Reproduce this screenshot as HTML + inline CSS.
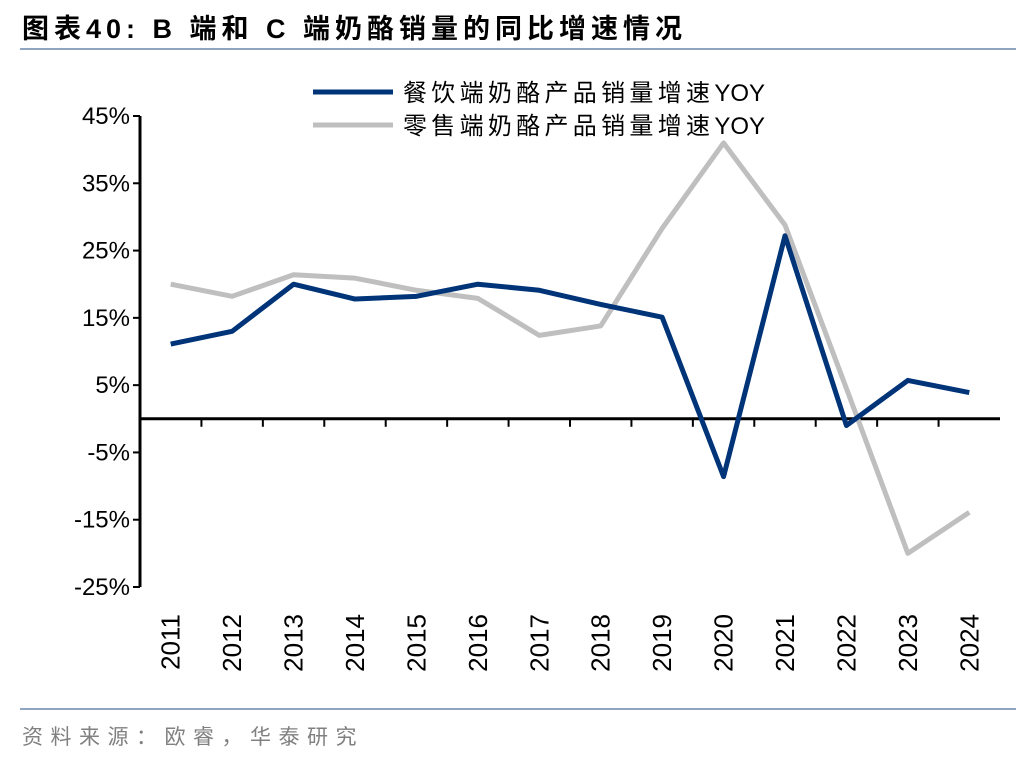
<!DOCTYPE html>
<html><head><meta charset="utf-8"><style>
body{margin:0;background:#fff;}
svg text{font-family:"Liberation Sans","Noto Sans CJK SC",sans-serif;}
</style></head><body>
<svg id="chart" width="1036" height="760" viewBox="0 0 1036 760">
<text x="22" y="38" font-size="27" font-weight="bold" fill="#000" letter-spacing="5">图表40:  B 端和 C 端奶酪销量的同比增速情况</text>
<line x1="20" y1="49" x2="1016" y2="49" stroke="#8ea4bf" stroke-width="2"/>
<line x1="20" y1="709" x2="1016" y2="709" stroke="#8ea4bf" stroke-width="2"/>
<text x="22" y="744" font-size="21" fill="#808080" letter-spacing="7.5">资料来源：欧睿，华泰研究</text>
<g>
<line x1="313" y1="92" x2="393" y2="92" stroke="#003478" stroke-width="5"/>
<text x="403" y="101" font-size="24" letter-spacing="4.3">餐饮端奶酪产品销量增速<tspan letter-spacing="0">YOY</tspan></text>
<line x1="313" y1="125" x2="393" y2="125" stroke="#bfbfbf" stroke-width="5"/>
<text x="403" y="134" font-size="24" letter-spacing="4.3">零售端奶酪产品销量增速<tspan letter-spacing="0">YOY</tspan></text>
</g>
<g id="axes"></g>
<g id="series"></g>
</svg>
<script>
const years=['2011','2012','2013','2014','2015','2016','2017','2018','2019','2020','2021','2022','2023','2024'];
const foodservice=[11.1,13.0,20.0,17.8,18.2,20.0,19.1,17.0,15.1,-8.6,27.2,-1.0,5.7,3.9];
const retail=[20.0,18.2,21.4,20.9,19.1,17.9,12.4,13.8,28.3,41.0,28.8,4.5,-20.0,-13.9];
const yTicks=[45,35,25,15,5,-5,-15,-25];
const NS='http://www.w3.org/2000/svg';
const x0=140,x1=1000,yTop=116,yBot=587,vMax=45,vMin=-25;
const step=(x1-x0)/years.length;
function xs(i){return x0+step*(i+0.5);}
function ys(v){return yTop+(vMax-v)/(vMax-vMin)*(yBot-yTop);}
function mk(tag,attrs,parent){const e=document.createElementNS(NS,tag);for(const k in attrs)e.setAttribute(k,attrs[k]);parent.appendChild(e);return e;}
const ax=document.getElementById('axes');
let e=mk('line',{x1:x0,y1:yTop,x2:x0,y2:yBot,stroke:'#000','stroke-width':3},ax);


e=mk('line',{x1:x0,y1:ys(0),x2:x1,y2:ys(0),stroke:'#000','stroke-width':3},ax);


yTicks.forEach(v=>{
 const t=mk('line',{x1:x0-7,y1:ys(v),x2:x0,y2:ys(v),stroke:'#000','stroke-width':2},ax);
 
 
 const l=mk('text',{x:x0-10,y:ys(v)+8,'font-size':24,'text-anchor':'end'},ax);
 l.textContent=v+'%';
 
 
});
years.forEach((y,i)=>{
 if(i>0){const t=mk('line',{x1:x0+step*i,y1:ys(0),x2:x0+step*i,y2:ys(0)+8,stroke:'#000','stroke-width':2},ax);
 
 }
 const l=mk('text',{x:0,y:0,'font-size':26,'text-anchor':'end',transform:`translate(${xs(i)+9},614) rotate(-90)`},ax);
 l.textContent=y;
 
 
});
const sg=document.getElementById('series');
function line(vals,color,name){
 const p=mk('polyline',{points:vals.map((v,i)=>xs(i)+','+ys(v)).join(' '),fill:'none',stroke:color,'stroke-width':5,'stroke-linejoin':'round'},sg);
 
 
}
line(retail,'#bfbfbf','retail-line');
line(foodservice,'#003478','foodservice-line');
</script>
</body></html>
